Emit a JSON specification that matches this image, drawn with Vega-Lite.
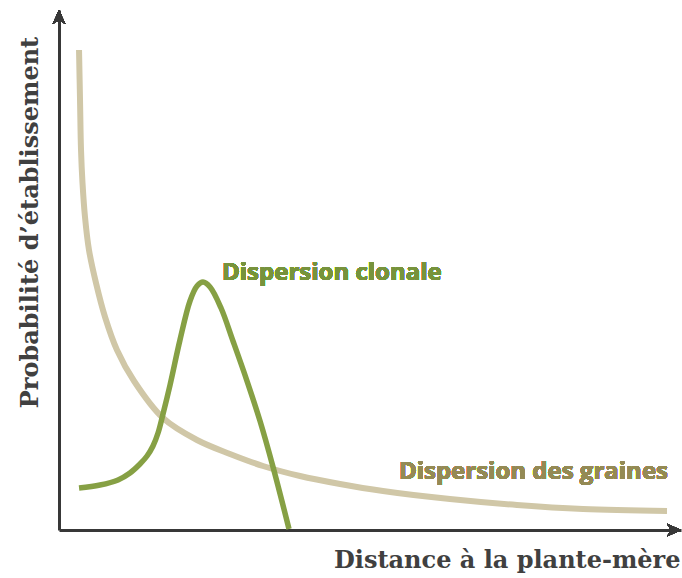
{
  "$schema": "https://vega.github.io/schema/vega-lite/v6.json",
  "width": 622,
  "height": 520,
  "autosize": {"type": "none"},
  "padding": {"left": 59, "top": 10, "right": 1, "bottom": 48},
  "background": "white",
  "config": {"view": {"stroke": null}},
  "data": {
    "values": [
      {"series": "graines", "d": 3.22, "p": 92.31},
      {"series": "graines", "d": 3.38, "p": 82.69},
      {"series": "graines", "d": 3.54, "p": 73.08},
      {"series": "graines", "d": 3.78, "p": 66.73},
      {"series": "graines", "d": 4.18, "p": 60.19},
      {"series": "graines", "d": 4.82, "p": 53.85},
      {"series": "graines", "d": 5.95, "p": 47.5},
      {"series": "graines", "d": 7.4, "p": 40.96},
      {"series": "graines", "d": 9.32, "p": 34.62},
      {"series": "graines", "d": 12.06, "p": 28.65},
      {"series": "graines", "d": 16.72, "p": 21.54},
      {"series": "graines", "d": 22.19, "p": 17.31},
      {"series": "graines", "d": 27.49, "p": 14.62},
      {"series": "graines", "d": 32.8, "p": 12.31},
      {"series": "graines", "d": 38.75, "p": 10.38},
      {"series": "graines", "d": 45.18, "p": 8.85},
      {"series": "graines", "d": 52.09, "p": 7.5},
      {"series": "graines", "d": 62.86, "p": 5.96},
      {"series": "graines", "d": 73.63, "p": 4.81},
      {"series": "graines", "d": 84.24, "p": 4.04},
      {"series": "graines", "d": 97.75, "p": 3.65},
      {"series": "clonale", "d": 3.22, "p": 8.08},
      {"series": "clonale", "d": 6.59, "p": 8.65},
      {"series": "clonale", "d": 9.49, "p": 9.62},
      {"series": "clonale", "d": 11.41, "p": 10.96},
      {"series": "clonale", "d": 13.02, "p": 12.69},
      {"series": "clonale", "d": 14.15, "p": 14.23},
      {"series": "clonale", "d": 15.11, "p": 16.15},
      {"series": "clonale", "d": 15.92, "p": 18.65},
      {"series": "clonale", "d": 16.72, "p": 22.31},
      {"series": "clonale", "d": 17.85, "p": 27.88},
      {"series": "clonale", "d": 19.45, "p": 36.54},
      {"series": "clonale", "d": 21.06, "p": 44.04},
      {"series": "clonale", "d": 22.19, "p": 46.92},
      {"series": "clonale", "d": 23.15, "p": 47.69},
      {"series": "clonale", "d": 24.28, "p": 46.73},
      {"series": "clonale", "d": 26.05, "p": 42.69},
      {"series": "clonale", "d": 27.97, "p": 36.35},
      {"series": "clonale", "d": 30.23, "p": 28.65},
      {"series": "clonale", "d": 32.32, "p": 20.96},
      {"series": "clonale", "d": 34.41, "p": 12.12},
      {"series": "clonale", "d": 36.98, "p": 0.2}
    ]
  },
  "layer": [
    {
      "transform": [{"filter": "datum.series === 'graines'"}],
      "mark": {"type": "line", "color": "#D0C7A7", "strokeWidth": 6, "interpolate": "catmull-rom", "strokeCap": "butt"},
      "encoding": {
        "x": {
          "field": "d", "type": "quantitative",
          "scale": {"domain": [0, 100], "nice": false, "zero": false},
          "axis": {
            "title": "Distance à la plante-mère",
            "ticks": false, "labels": false, "grid": false,
            "domainColor": "#383838", "domainWidth": 3,
            "titleFont": "DejaVu Serif", "titleFontSize": 24, "titleFontWeight": "bold",
            "titleColor": "#404040",
            "titleAnchor": "end", "titleAlign": "right", "titleBaseline": "alphabetic",
            "titleX": 621, "titleY": 37
          }
        },
        "y": {
          "field": "p", "type": "quantitative",
          "scale": {"domain": [0, 100], "nice": false, "zero": false},
          "axis": {
            "title": "Probabilité d’établissement",
            "ticks": false, "labels": false, "grid": false,
            "domainColor": "#383838", "domainWidth": 3,
            "titleFont": "DejaVu Serif", "titleFontSize": 24, "titleFontWeight": "bold",
            "titleColor": "#404040",
            "titleAngle": -90, "titleAlign": "center", "titleBaseline": "alphabetic",
            "titleX": -22, "titleY": 212
          }
        }
      }
    },
    {
      "transform": [{"filter": "datum.series === 'clonale'"}],
      "mark": {"type": "line", "color": "#86A044", "strokeWidth": 5.5, "interpolate": "catmull-rom"},
      "encoding": {
        "x": {"field": "d", "type": "quantitative"},
        "y": {"field": "p", "type": "quantitative"}
      }
    },
    {
      "mark": {"type": "text", "font": "Open Sans", "fontWeight": "bold", "fontSize": 24, "color": "#77933C", "align": "left", "baseline": "alphabetic"},
      "encoding": {
        "x": {"datum": 26.21, "type": "quantitative"},
        "y": {"datum": 48.08, "type": "quantitative"},
        "text": {"value": "Dispersion clonale"}
      }
    },
    {
      "mark": {"type": "text", "font": "Open Sans", "fontWeight": "bold", "fontSize": 24, "color": "#948A54", "align": "right", "baseline": "alphabetic"},
      "encoding": {
        "x": {"datum": 97.91, "type": "quantitative"},
        "y": {"datum": 9.81, "type": "quantitative"},
        "text": {"value": "Dispersion des graines"}
      }
    },
    {
      "mark": {"type": "point", "shape": "M0,0L-0.75,1.65L0,1.2L0.75,1.65Z", "size": 289, "filled": true, "color": "#383838", "opacity": 1},
      "encoding": {
        "x": {"datum": 0, "type": "quantitative"},
        "y": {"datum": 100, "type": "quantitative"}
      }
    },
    {
      "mark": {"type": "point", "shape": "M0,0L-1.65,-0.75L-1.2,0L-1.65,0.75Z", "size": 289, "filled": true, "color": "#383838", "opacity": 1},
      "encoding": {
        "x": {"datum": 100, "type": "quantitative"},
        "y": {"datum": 0, "type": "quantitative"}
      }
    }
  ]
}
